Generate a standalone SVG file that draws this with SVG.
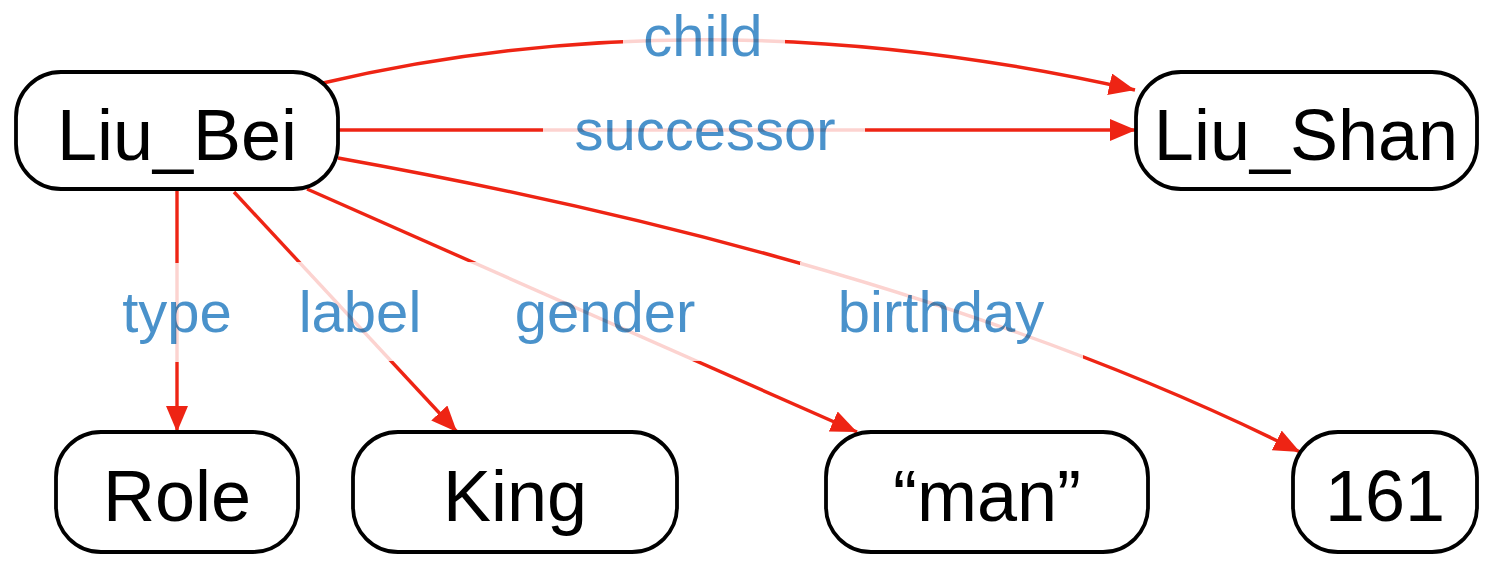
<svg xmlns="http://www.w3.org/2000/svg" width="1508" height="574" viewBox="0 0 1508 574">
  <style>
    .node rect { fill: #ffffff; stroke: #000000; stroke-width: 3.8; }
    .node text { font-family: "Liberation Sans", Arial, sans-serif; font-size: 72px; fill: #000000; text-anchor: middle; }
    .edge { fill: none; stroke: #EE2414; stroke-width: 3.4; }
    .lblbg { fill: #ffffff; fill-opacity: 0.8; }
    .lbl { font-family: "Liberation Sans", Arial, sans-serif; font-size: 58px; fill: #4A92CB; text-anchor: middle; mix-blend-mode: multiply; }
  </style>
  <defs>
    <marker id="arrow" markerUnits="userSpaceOnUse" markerWidth="26" markerHeight="22" refX="26" refY="11" orient="auto" viewBox="0 0 26 22">
      <path d="M0,0 L26,11 L0,22 z" fill="#EE2414"/>
    </marker>
  </defs>

  <g id="connectors">
    <path class="edge" d="M323,83 Q707,-7 1135,90" marker-end="url(#arrow)"/>
    <path class="edge" d="M338,130 L1136,130" marker-end="url(#arrow)"/>
    <path class="edge" d="M177,190 L177,432" marker-end="url(#arrow)"/>
    <path class="edge" d="M234,192 L457,432" marker-end="url(#arrow)"/>
    <path class="edge" d="M307,189 L857,432" marker-end="url(#arrow)"/>
    <path class="edge" d="M338,158 Q922,263 1300,452" marker-end="url(#arrow)"/>

    <g id="edge-labels">
      <rect class="lblbg" x="623" y="-13" width="162" height="99"/>
      <text class="lbl" x="703" y="56">child</text>
      <rect class="lblbg" x="543" y="81" width="322" height="99"/>
      <text class="lbl" x="705" y="150">successor</text>
      <rect class="lblbg" x="100" y="263" width="154" height="99"/>
      <text class="lbl" x="177" y="332">type</text>
      <rect class="lblbg" x="280" y="262" width="160" height="99"/>
      <text class="lbl" x="360" y="332">label</text>
      <rect class="lblbg" x="468" y="262" width="266" height="99"/>
      <text class="lbl" x="605" y="332">gender</text>
      <rect class="lblbg" x="800" y="262" width="283" height="99"/>
      <text class="lbl" x="941" y="332">birthday</text>
    </g>
  </g>

  <g id="node-liu-bei" class="node">
    <rect x="16" y="72" width="322" height="117" rx="45" ry="45"/>
    <text x="177" y="160">Liu_Bei</text>
  </g>
  <g id="node-liu-shan" class="node">
    <rect x="1136" y="72" width="341" height="117" rx="45" ry="45"/>
    <text x="1306" y="160">Liu_Shan</text>
  </g>
  <g id="node-role" class="node">
    <rect x="56" y="432" width="242" height="120" rx="45" ry="45"/>
    <text x="177" y="521">Role</text>
  </g>
  <g id="node-king" class="node">
    <rect x="353" y="432" width="324" height="120" rx="45" ry="45"/>
    <text x="515" y="521">King</text>
  </g>
  <g id="node-man" class="node">
    <rect x="826" y="432" width="322" height="120" rx="45" ry="45"/>
    <text x="987" y="521">“man”</text>
  </g>
  <g id="node-161" class="node">
    <rect x="1293" y="432" width="184" height="120" rx="45" ry="45"/>
    <text x="1385" y="521">161</text>
  </g>
</svg>
